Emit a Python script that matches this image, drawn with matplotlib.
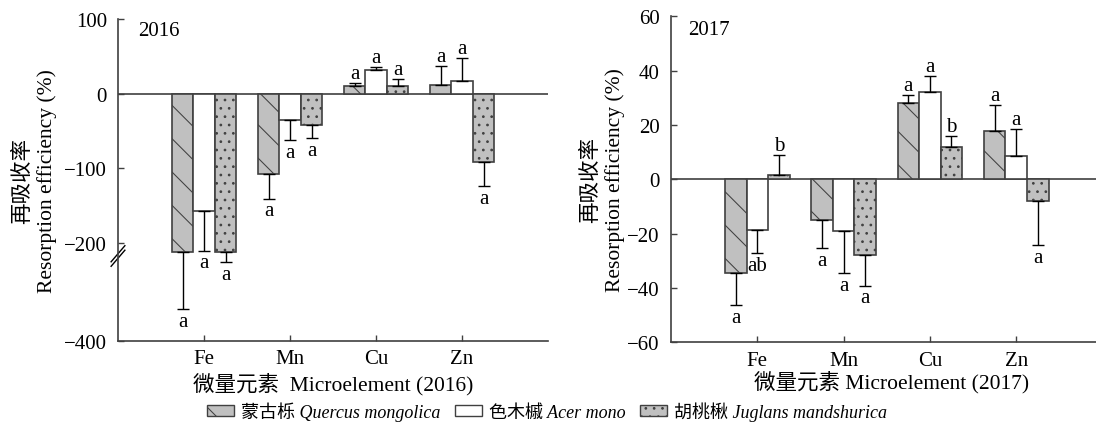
import numpy as np
import matplotlib
matplotlib.use("Agg")
import matplotlib.pyplot as plt
from matplotlib.patches import Patch
from matplotlib.font_manager import FontProperties

plt.rcParams['font.family'] = ['Liberation Serif', 'Noto Sans CJK SC']
plt.rcParams['font.size'] = 15
plt.rcParams['axes.unicode_minus'] = True
plt.rcParams['hatch.linewidth'] = 0.75

elements = ["Fe", "Mn", "Cu", "Zn"]
species = ["蒙古栎 Quercus mongolica", "色木槭 Acer mono", "胡桃楸 Juglans mandshurica"]

# 2016 resorption efficiency (%) and error (sd), order Fe, Mn, Cu, Zn
q16 = [-218, -107.5, 9.8, 11.6]
q16_sd = [117, 33, 4.5, 26]
a16 = [-157.7, -35.7, 31.2, 17.4]
a16_sd = [58, 26, 4, 31]
j16 = [-218, -41.9, 10.7, -92]
j16_sd = [21, 18, 9, 31.5]
let16 = [["a", "a", "a", "a"], ["a", "a", "a", "a"], ["a", "a", "a", "a"]]

# 2017
q17 = [-34.6, -15.0, 28.2, 17.6]
q17_sd = [11.6, 10.4, 2.8, 9.8]
a17 = [-18.5, -18.9, 32.3, 8.6]
a17_sd = [8.8, 15.7, 5.7, 9.9]
j17 = [1.7, -27.8, 11.8, -7.9]
j17_sd = [7.3, 11.3, 4.0, 16.3]
let17 = [["a", "a", "a", "a"], ["ab", "a", "a", "a"], ["b", "a", "b", "a"]]

gray = "#c0c0c0"
edge = "#404040"
styles = [dict(color=gray, hatch="\\"), dict(color="white", hatch=None), dict(color=gray, hatch="..")]

# broken y axis for 2016: below -200 compressed
k = 0.656
def fwd(y):
    y = np.asarray(y, dtype=float)
    return np.where(y >= -200, y, -200 + (y + 200) * k)
def inv(t):
    t = np.asarray(t, dtype=float)
    return np.where(t >= -200, t, -200 + (t + 200) / k)

fig = plt.figure(figsize=(10.96, 4.31), dpi=100)
ax1 = fig.add_axes([118/1096, 89/431, 430/1096, 322/431])
ax2 = fig.add_axes([671/1096, (431-343.3)/431, 431.5/1096, 326/431])


def draw(ax, vals, sds, letters):
    x = np.arange(len(elements))
    w = 0.25
    for i, (v, s, st) in enumerate(zip(vals, sds, styles)):
        pos = x + (i - 1) * w
        v = np.array(v)
        s = np.array(s)
        ax.bar(pos, v, w, facecolor=st["color"], edgecolor=edge, hatch=st["hatch"],
               linewidth=1.2, zorder=2)
        lo = np.where(v < 0, s, 0)
        hi = np.where(v >= 0, s, 0)
        ax.errorbar(pos, v, yerr=[lo, hi], fmt="none", ecolor="black",
                    elinewidth=1.0, capsize=4, capthick=1.0, zorder=3)
        for p, vv, ss, lab in zip(pos, v, s, letters[i]):
            if vv >= 0:
                ax.annotate(lab, (p, vv + ss), xytext=(0, 0), textcoords="offset points",
                            ha="center", va="bottom")
            else:
                ax.annotate(lab, (p, vv - ss), xytext=(0, -2), textcoords="offset points",
                            ha="center", va="top")
    ax.axhline(0, color=edge, lw=1.2, zorder=1)
    ax.set_xticks(x)
    ax.set_xticklabels(elements)
    ax.set_xlim(-1, 4)
    for sp in ["top", "right"]:
        ax.spines[sp].set_visible(False)
    for sp in ["left", "bottom"]:
        ax.spines[sp].set_color(edge)
        ax.spines[sp].set_linewidth(1.2)
    ax.tick_params(direction="in", length=4, width=1.0, color=edge)
    ax.tick_params(axis="x", pad=6)
    ax.tick_params(axis="y", pad=8)


# 2016
ax1.set_yscale("function", functions=(fwd, inv))
draw(ax1, [q16, a16, j16], [q16_sd, a16_sd, j16_sd], let16)
ax1.set_ylim(-400, 100)
ax1.set_yticks([100, 0, -100, -200, -400])
ax1.set_yticklabels(["100", "0", "\u2212100", "\u2212200", "\u2212400"])
ax1.text(0.0465, 0.963, "2016", transform=ax1.transAxes, va="center", ha="left")
ax1.text(0.5, -0.132, "微量元素  Microelement (2016)", transform=ax1.transAxes,
         ha="center", va="center", fontsize=15.5)
ax1.text(-0.193, 0.5, "再吸收率\nResorption efficiency (%)", transform=ax1.transAxes,
         ha="center", va="center", rotation=90, linespacing=1.25, fontsize=15.5)
# break marks
for dy in (0.0, 0.014):
    ax1.plot([-0.016, 0.016], [0.232 + dy, 0.282 + dy], transform=ax1.transAxes,
             color="black", lw=1.0, clip_on=False)

# 2017
draw(ax2, [q17, a17, j17], [q17_sd, a17_sd, j17_sd], let17)
ax2.set_ylim(-60, 60)
ax2.set_yticks([60, 40, 20, 0, -20, -40, -60])
ax2.set_yticklabels(["60", "40", "20", "0", "\u221220", "\u221240", "\u221260"])
ax2.text(0.039, 0.961, "2017", transform=ax2.transAxes, va="center", ha="left")
ax2.text(0.51, -0.118, "微量元素 Microelement (2017)", transform=ax2.transAxes,
         ha="center", va="center", fontsize=15.5)
ax2.text(-0.158, 0.5, "再吸收率\nResorption efficiency (%)", transform=ax2.transAxes,
         ha="center", va="center", rotation=90, linespacing=1.25, fontsize=15.5)

handles = [Patch(facecolor=st["color"], edgecolor=edge, hatch=st["hatch"], linewidth=1.0)
           for st in styles]
fig.legend(handles, species, loc="center", bbox_to_anchor=(0.499, 1 - 412/431), ncol=3,
           frameon=False, handlelength=1.5, handleheight=0.55, columnspacing=0.8,
           handletextpad=0.4,
           prop=FontProperties(family=['Liberation Serif', 'Noto Sans CJK SC'],
                               style="italic", size=13))

fig.savefig("out.png", dpi=100)
